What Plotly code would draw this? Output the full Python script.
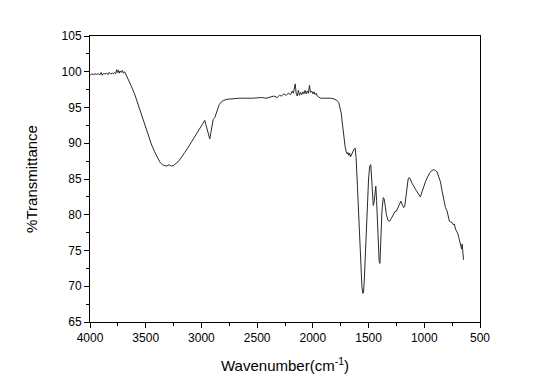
import plotly.graph_objects as go

wavenumber = [
    4000, 3985, 3970, 3955, 3940, 3925, 3910, 3900, 3890, 3880, 3865, 3850, 3840, 3830, 3815,
    3800, 3790, 3780, 3770, 3760, 3752, 3745, 3738, 3730, 3720, 3710, 3700, 3690, 3680, 3670,
    3650, 3630, 3600, 3570, 3540, 3510, 3480, 3450, 3420, 3390, 3370, 3350, 3330, 3310, 3290,
    3270, 3250, 3230, 3210, 3190, 3170, 3150, 3120, 3090, 3060, 3030, 3000, 2985, 2970, 2960,
    2945, 2935, 2925, 2915, 2905, 2895, 2880, 2860, 2840, 2820, 2800, 2770, 2740, 2700, 2660,
    2620, 2580, 2540, 2500, 2460, 2420, 2380, 2350, 2320, 2300, 2280, 2260, 2240, 2220, 2200,
    2185, 2175, 2165, 2158, 2150, 2140, 2130, 2120, 2110, 2100, 2090, 2080, 2070, 2060, 2050,
    2040, 2030, 2022, 2010, 2000, 1990, 1980, 1970, 1960, 1950, 1930, 1900, 1870, 1840, 1810,
    1785, 1768, 1755, 1745, 1737, 1728, 1720, 1710, 1700, 1692, 1685, 1677, 1670, 1662, 1650,
    1640, 1630, 1620, 1612, 1600, 1590, 1580, 1570, 1560, 1552, 1545, 1538, 1525, 1512, 1500,
    1490, 1480, 1472, 1465, 1458, 1450, 1442, 1435, 1428, 1420, 1412, 1405, 1398, 1390, 1380,
    1368, 1360, 1350, 1340, 1325, 1310, 1295, 1280, 1265, 1250, 1235, 1220, 1210, 1200, 1185,
    1175, 1165, 1155, 1145, 1135, 1125, 1110, 1095, 1080, 1065, 1050, 1035, 1020, 1005, 990,
    970, 950, 930, 915, 900, 885, 870, 855, 840, 825, 810, 795, 785, 775, 762,
    750, 740, 730, 720, 710, 700, 690, 680, 672, 665, 660, 656, 652, 648,
]

transmittance = [
    99.5, 99.7, 99.6, 99.7, 99.65, 99.7, 99.6, 99.9, 99.5, 99.75, 99.7, 99.8, 99.6, 99.9, 99.7,
    99.8, 99.75, 99.9, 99.7, 100.3, 99.9, 100.2, 99.8, 100.1, 99.9, 100.2, 99.8, 100.0, 99.7, 99.4,
    98.8, 98.0, 96.9, 95.5, 94.0, 92.6, 91.2, 89.9, 88.8, 87.8, 87.3, 87.0, 86.9, 86.8, 87.0,
    86.8, 86.9, 87.1, 87.4, 87.8, 88.2, 88.7, 89.4, 90.2, 91.0, 91.8, 92.6, 93.0, 93.2, 92.6,
    91.6, 90.9, 90.6, 91.5, 92.6, 93.3, 93.6, 94.6, 95.4, 95.8, 96.0, 96.15, 96.2, 96.3, 96.3,
    96.3, 96.25, 96.3, 96.35, 96.4, 96.3, 96.5, 96.6, 96.4, 96.7, 96.6, 96.9, 96.7, 97.0, 96.8,
    97.3, 97.0, 97.6, 98.3, 97.0, 96.6, 97.4, 96.7, 97.1, 96.8, 97.2, 96.9, 97.4, 96.9, 97.3,
    97.0, 98.1, 97.1, 97.3, 96.9, 97.2, 96.8, 97.0, 96.6, 96.5, 96.3, 96.3, 96.35, 96.3, 96.2,
    96.0, 95.7, 95.0, 94.2, 93.0, 91.5, 90.5, 89.5, 88.8, 88.5, 88.7, 88.3, 88.6, 88.1, 88.5,
    89.0, 89.2, 89.3, 88.0, 84.0, 80.0, 76.0, 72.5, 70.0, 69.0, 69.2, 71.0, 76.0, 81.0, 85.0,
    86.8, 87.0, 85.0, 82.5, 81.3, 81.8, 83.5, 84.0, 82.0, 79.0, 75.5, 73.5, 73.2, 76.5, 80.5,
    82.4, 82.2, 81.2, 80.0, 79.2, 79.1, 79.5, 80.0, 80.4, 80.5, 81.0, 81.6, 81.9, 81.5, 81.0,
    81.2, 82.5, 84.0, 85.0, 85.2, 85.0, 84.4, 83.9, 83.6, 83.2, 82.8, 82.5, 83.2, 84.0, 84.6,
    85.3, 85.9, 86.2, 86.3, 86.2, 86.0, 85.3, 84.6, 83.3, 82.0, 81.0, 80.5, 79.6, 79.1, 79.0,
    78.9, 78.6, 78.7, 78.0, 77.7, 77.4, 76.8, 76.2, 75.8, 75.2, 75.9, 74.5, 75.0, 73.7,
]

x_ticks = [4000, 3500, 3000, 2500, 2000, 1500, 1000, 500]
y_ticks = [65, 70, 75, 80, 85, 90, 95, 100, 105]

fig = go.Figure()
fig.add_trace(go.Scatter(
    x=wavenumber, y=transmittance, mode="lines",
    line=dict(color="#2a2a2a", width=1), showlegend=False,
))

axis_common = dict(
    showgrid=False, zeroline=False, showline=True, linecolor="black", linewidth=1,
    mirror=True, ticks="outside", ticklen=5, tickwidth=1, tickcolor="black",
    tickfont=dict(family="Liberation Sans, Arial, sans-serif", size=12, color="black"),
    automargin=False,
)

fig.update_xaxes(
    range=[4000, 500], tickvals=x_ticks, ticktext=[str(v) for v in x_ticks],
    minor=dict(dtick=250, ticks="outside", ticklen=3, tickcolor="black", showgrid=False),
    title=dict(text="Wavenumber(cm<sup>-1</sup>)", standoff=16,
               font=dict(family="Liberation Sans, Arial, sans-serif", size=15, color="black")),
    **axis_common,
)
fig.update_yaxes(
    range=[65, 105], tickvals=y_ticks, ticktext=[str(v) for v in y_ticks],
    minor=dict(dtick=2.5, ticks="outside", ticklen=3, tickcolor="black", showgrid=False),
    title=dict(text="%Transmittance", standoff=20,
               font=dict(family="Liberation Sans, Arial, sans-serif", size=15, color="black")),
    **axis_common,
)

fig.update_layout(
    width=535, height=376,
    margin=dict(l=82, r=63, t=28, b=62),
    plot_bgcolor="white", paper_bgcolor="white",
)

fig.write_html("out.html")
